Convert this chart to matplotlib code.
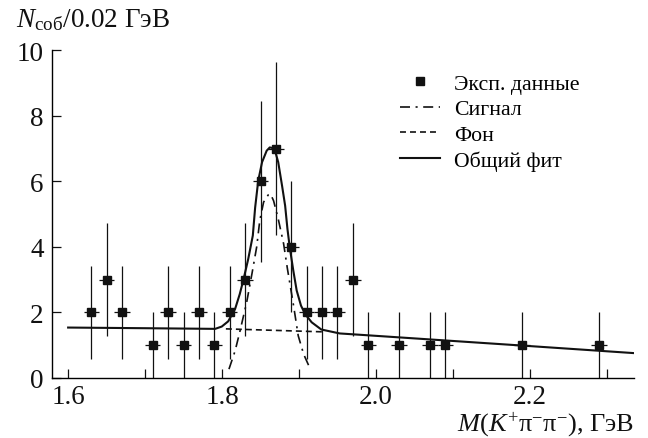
import matplotlib.pyplot as plt
from matplotlib.ticker import MultipleLocator
from matplotlib.lines import Line2D
import numpy as np

plt.rcParams['font.family'] = ['Liberation Serif', 'DejaVu Serif']
plt.rcParams['mathtext.fontset'] = 'custom'
plt.rcParams['mathtext.rm'] = 'Liberation Serif'
plt.rcParams['mathtext.it'] = 'Liberation Serif:italic'
plt.rcParams['lines.scale_dashes'] = False

# experimental points (bin centres, events per 0.02 GeV)
mass = [1.63, 1.65, 1.67, 1.71, 1.73, 1.75, 1.77, 1.79, 1.81, 1.83, 1.85, 1.87,
        1.89, 1.91, 1.93, 1.95, 1.97, 1.99, 2.03, 2.07, 2.09, 2.19, 2.29]
counts = [2, 3, 2, 1, 2, 1, 2, 1, 2, 3, 6, 7, 4, 2, 2, 2, 3, 1, 1, 1, 1, 1, 1]
bin_half = 0.01

# signal curve
sig_x = [1.809, 1.817, 1.823, 1.832, 1.839, 1.845, 1.849, 1.854, 1.860, 1.863,
         1.867, 1.873, 1.880, 1.885, 1.893, 1.899, 1.906, 1.913]
sig_y = [0.27, 0.83, 1.40, 2.31, 3.20, 4.00, 4.80, 5.37, 5.59, 5.62,
         5.41, 4.86, 4.10, 3.33, 2.20, 1.29, 0.73, 0.36]

# background under the peak
bkg_x = [1.805, 1.930]
bkg_y = [1.50, 1.41]

# total fit
fit_x = [1.600, 1.700, 1.791, 1.7996, 1.808, 1.817, 1.823, 1.8277, 1.834, 1.840,
         1.843, 1.847, 1.852, 1.858, 1.862, 1.868, 1.873, 1.878, 1.882, 1.885,
         1.888, 1.8926, 1.897, 1.9026, 1.908, 1.9165, 1.929, 1.953, 1.979,
         2.190, 2.335]
fit_y = [1.54, 1.52, 1.50, 1.57, 1.73, 2.11, 2.56, 2.99, 3.63, 4.35,
         5.20, 6.02, 6.59, 6.94, 7.04, 7.01, 6.59, 5.87, 5.26, 4.55,
         3.99, 3.28, 2.67, 2.21, 1.95, 1.70, 1.48, 1.36, 1.32,
         0.99, 0.76]

ink = '#111111'
dashdot = (0, (7.2, 4.0, 1.5, 4.0))
dashed = (0, (4.3, 2.9))

fig = plt.figure(figsize=(6.48, 4.39), dpi=100)
ax = fig.add_axes([0.0802, 0.1367, 0.8978, 0.7460])

ax.plot(fit_x, fit_y, color=ink, lw=1.5)
ax.plot(bkg_x, bkg_y, color=ink, lw=1.2, ls=dashed)
ax.plot(sig_x, sig_y, color=ink, lw=1.2, ls=dashdot)

ax.errorbar(mass, counts, xerr=bin_half, yerr=np.sqrt(counts), fmt='none',
            ecolor=ink, elinewidth=0.9, capsize=0)
ax.plot(mass, counts, 's', color=ink, ms=5.5, ls='none')

ax.set_xlim(1.579, 2.335)
ax.set_ylim(0, 10)
ax.spines['top'].set_visible(False)
ax.spines['right'].set_visible(False)
for s in ('left', 'bottom'):
    ax.spines[s].set_linewidth(1.0)

ax.xaxis.set_minor_locator(MultipleLocator(0.1))
ax.yaxis.set_major_locator(MultipleLocator(2))
ax.set_xticks([1.6, 1.8, 2.0, 2.2])
ax.set_xticklabels(['1.6', '1.8', '2.0', '2.2'])
ax.tick_params(which='both', direction='in', length=6.5, width=0.9,
               labelsize=19.5, pad=6, colors=ink)
ax.tick_params(axis='x', pad=4)

handles = [
    Line2D([], [], marker='s', color=ink, ls='none', ms=5.5),
    Line2D([], [], color=ink, lw=1.2, ls=dashdot),
    Line2D([], [], color=ink, lw=1.2, ls=dashed),
    Line2D([], [], color=ink, lw=1.5),
]
labels = ['Эксп. данные', 'Сигнал', 'Фон', 'Общий фит']
ax.legend(handles, labels, loc='upper left', bbox_to_anchor=(0.598, 0.930),
          frameon=False, fontsize=15.7, borderpad=0, borderaxespad=0,
          handlelength=1.83, handletextpad=0.64, labelspacing=0.25)

fig.text(0.025, 0.938, r'$N_{\mathrm{соб}}$/0.02 ГэВ', fontsize=19.5,
         color=ink, ha='left', va='baseline')
fig.text(0.978, 0.019, r'$M(K^{+}\mathrm{π}^{-}\mathrm{π}^{-})$, ГэВ',
         fontsize=19, color=ink, ha='right', va='baseline')

fig.savefig('out.png', dpi=100)
